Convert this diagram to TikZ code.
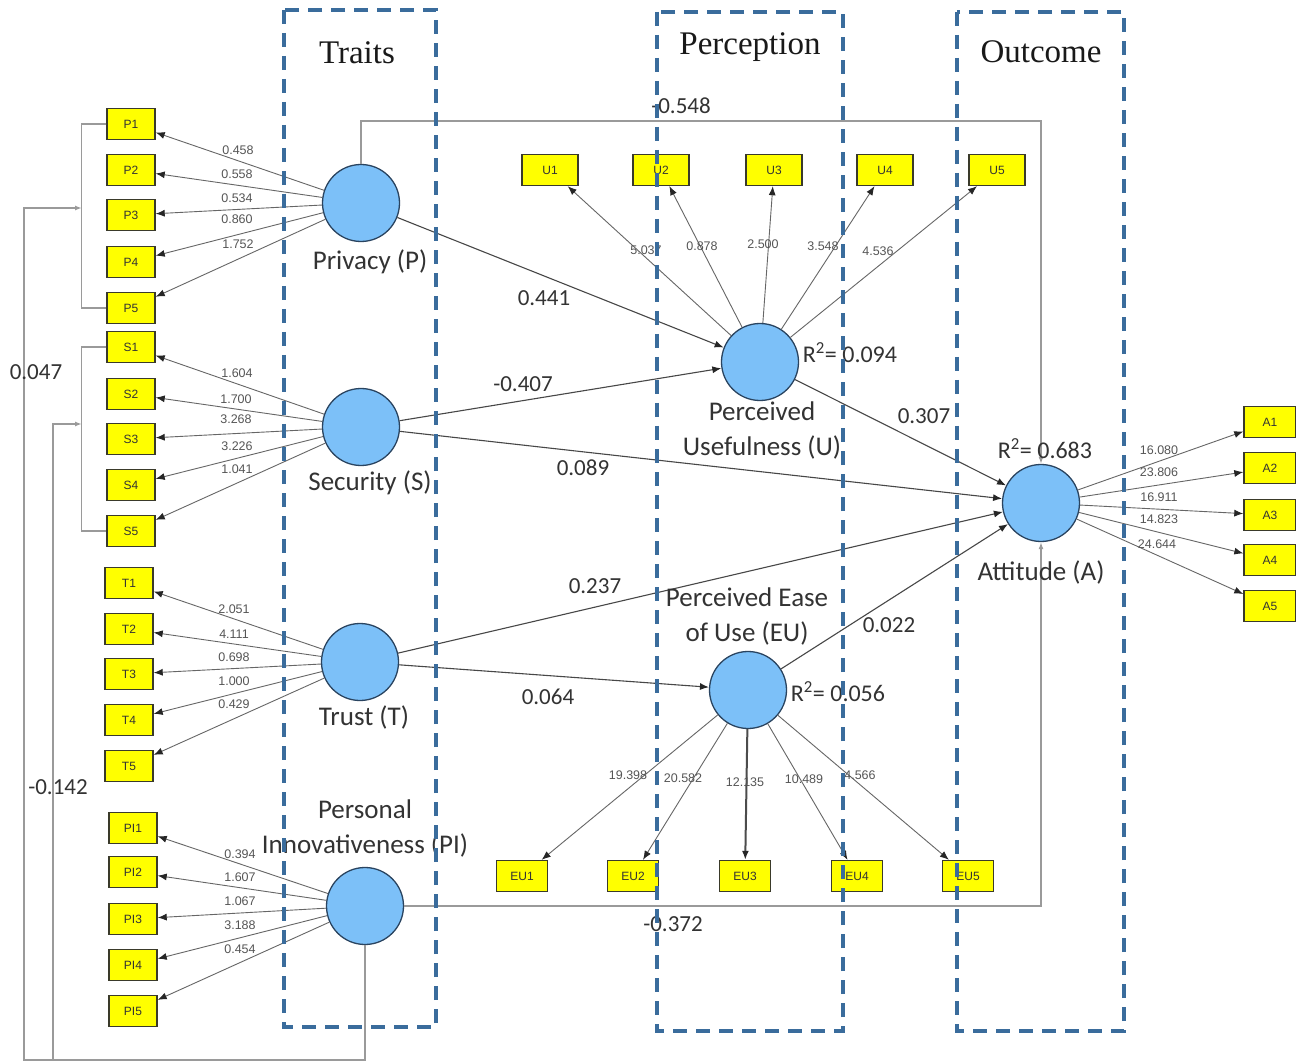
\documentclass[tikz,border=0pt]{standalone}
\usepackage{fontspec}
\setmainfont{Liberation Serif}
\newfontfamily\calfont{Carlito}
\newfontfamily\arialfont{Liberation Sans}
\usetikzlibrary{arrows.meta}
\definecolor{frameblue}{HTML}{3A6C9C}
\definecolor{circfill}{HTML}{7CC0F8}
\definecolor{circline}{HTML}{2A4460}
\definecolor{boxyellow}{HTML}{FFFF00}
\definecolor{boxline}{HTML}{3A3A2A}
\definecolor{txtdark}{HTML}{333333}
\definecolor{numgray}{HTML}{555555}
\definecolor{linkgray}{HTML}{9A9A9A}
\begin{document}
\begin{tikzpicture}[x=1pt,y=-1pt,
  latent/.style={circle,draw=circline,line width=1.3pt,fill=circfill,minimum size=77pt,inner sep=0pt},
  ind/.style={rectangle,draw=boxline,line width=1.4pt,fill=boxyellow,minimum width=48pt,minimum height=31pt,inner sep=0pt,font=\arialfont\fontsize{12}{12}\selectfont,text=black!80},
  indu/.style={ind,minimum width=56pt},
  inde/.style={ind,minimum width=51pt},
  inda/.style={ind,minimum width=52pt},
  tipk/.tip={Latex[length=9pt,width=7pt,color=black!85]},
  tipg/.tip={Latex[length=7pt,width=5pt,color=linkgray]},
  load/.style={draw=black!60,line width=0.9pt,-tipk},
  strpath/.style={draw=black!72,line width=1.1pt,-tipk},
  conn/.style={draw=linkgray,line width=1.6pt},
  lbl/.style={font=\calfont\fontsize{27}{35}\selectfont,text=txtdark,align=center,inner sep=0pt},
  coef/.style={font=\calfont\fontsize{23}{23}\selectfont,text=txtdark,inner sep=0pt},
  ld/.style={font=\arialfont\fontsize{12.5}{12.5}\selectfont,text=numgray,inner sep=0pt},
  ttl/.style={font=\fontsize{33}{33}\selectfont,text=black!90,inner sep=0pt},
  frame/.style={draw=frameblue,line width=3.2pt,dash pattern=on 14pt off 9pt}
]
\useasboundingbox[fill=white] (0,0) rectangle (1296,1064);

% latent constructs
\node[latent] (P)  at (361,203) {};
\node[latent] (S)  at (361,427) {};
\node[latent] (T)  at (360,662) {};
\node[latent] (PI) at (365,906) {};
\node[latent] (U)  at (760,362) {};
\node[latent] (EU) at (748,690) {};
\node[latent] (A)  at (1041,503) {};

% indicators
\node[ind] (P1) at (131,124) {P1};
\node[ind] (P2) at (131,170) {P2};
\node[ind] (P3) at (131,215) {P3};
\node[ind] (P4) at (131,262) {P4};
\node[ind] (P5) at (131,308) {P5};
\node[ind] (S1) at (131,347) {S1};
\node[ind] (S2) at (131,394) {S2};
\node[ind] (S3) at (131,439) {S3};
\node[ind] (S4) at (131,485) {S4};
\node[ind] (S5) at (131,531) {S5};
\node[ind] (T1) at (129,583) {T1};
\node[ind] (T2) at (129,629) {T2};
\node[ind] (T3) at (129,674) {T3};
\node[ind] (T4) at (129,720) {T4};
\node[ind] (T5) at (129,766) {T5};
\node[ind] (PI1) at (133,828) {PI1};
\node[ind] (PI2) at (133,872) {PI2};
\node[ind] (PI3) at (133,919) {PI3};
\node[ind] (PI4) at (133,965) {PI4};
\node[ind] (PI5) at (133,1011) {PI5};
\node[indu] (U1) at (550,170) {U1};
\node[indu] (U2) at (661,170) {U2};
\node[indu] (U3) at (774,170) {U3};
\node[indu] (U4) at (885,170) {U4};
\node[indu] (U5) at (997,170) {U5};
\node[inde] (EU1) at (522,876) {EU1};
\node[inde] (EU2) at (633,876) {EU2};
\node[inde] (EU3) at (745,876) {EU3};
\node[inde] (EU4) at (857,876) {EU4};
\node[inde] (EU5) at (968,876) {EU5};
\node[inda] (A1) at (1270,422) {A1};
\node[inda] (A2) at (1270,468) {A2};
\node[inda] (A3) at (1270,515) {A3};
\node[inda] (A4) at (1270,560) {A4};
\node[inda] (A5) at (1270,606) {A5};

% loading arrows
\foreach \c/\i in {P/P1,P/P2,P/P3,P/P4,P/P5,S/S1,S/S2,S/S3,S/S4,S/S5,T/T1,T/T2,T/T3,T/T4,T/T5,PI/PI1,PI/PI2,PI/PI3,PI/PI4,PI/PI5,U/U1,U/U2,U/U3,U/U4,U/U5,EU/EU1,EU/EU2,EU/EU4,EU/EU5,A/A1,A/A2,A/A3,A/A4,A/A5}
  \draw[load] (\c) -- (\i);
\draw[load,line width=2pt,draw=black!70] (EU) -- (EU3);

% loading labels
\node[ld] at (238,150) {0.458};
\node[ld] at (237,174) {0.558};
\node[ld] at (237,198) {0.534};
\node[ld] at (237,219) {0.860};
\node[ld] at (238,244) {1.752};
\node[ld] at (237,373) {1.604};
\node[ld] at (236,399) {1.700};
\node[ld] at (236,419) {3.268};
\node[ld] at (237,446) {3.226};
\node[ld] at (237,469) {1.041};
\node[ld] at (234,609) {2.051};
\node[ld] at (234,634) {4.111};
\node[ld] at (234,657) {0.698};
\node[ld] at (234,681) {1.000};
\node[ld] at (234,704) {0.429};
\node[ld] at (240,854) {0.394};
\node[ld] at (240,877) {1.607};
\node[ld] at (240,901) {1.067};
\node[ld] at (240,925) {3.188};
\node[ld] at (240,949) {0.454};
\node[ld] at (646,250) {5.037};
\node[ld] at (702,246) {0.878};
\node[ld] at (763,244) {2.500};
\node[ld] at (823,246) {3.548};
\node[ld] at (878,251) {4.536};
\node[ld] at (628,775) {19.398};
\node[ld] at (683,778) {20.582};
\node[ld] at (745,782) {12.135};
\node[ld] at (804,779) {10.489};
\node[ld] at (860,775) {4.566};
\node[ld] at (1159,450) {16.080};
\node[ld] at (1159,472) {23.806};
\node[ld] at (1159,497) {16.911};
\node[ld] at (1159,519) {14.823};
\node[ld] at (1157,544) {24.644};

% structural paths
\draw[strpath] (P) -- (U);
\draw[strpath] (S) -- (U);
\draw[strpath] (S) -- (A);
\draw[strpath] (T) -- (A);
\draw[strpath] (T) -- (EU);
\draw[strpath] (U) -- (A);
\draw[strpath] (EU) -- (A);

\node[coef] at (544,298) {0.441};
\node[coef] at (523,384) {-0.407};
\node[coef] at (583,468) {0.089};
\node[coef] at (595,586) {0.237};
\node[coef] at (548,697) {0.064};
\node[coef] at (924,416) {0.307};
\node[coef] at (889,625) {0.022};

% orthogonal connectors
\coordinate (topbend) at (361,121);
\draw[conn,-tipg] (P.north) -- (topbend) -| (A.north);
\draw[conn,-tipg] (PI.east) -| (A.south);
\node[coef] at (681,106) {-0.548};
\node[coef] at (673,924) {-0.372};

\coordinate (bout) at (24,1060);
\coordinate (bin) at (53,1060);
\coordinate (brP) at (82,208);
\coordinate (brS) at (82,424);
\draw[conn] (P1.west) -- ++(-25,0) |- (P5.west);
\draw[conn] (S1.west) -- ++(-25,0) |- (S5.west);
\draw[conn,-tipg] (PI.south) |- (bout) |- (brP);
\draw[conn,-tipg] (bin) |- (brS);
\node[coef] at (36,372) {0.047};
\node[coef] at (58,787) {-0.142};

% construct labels
\node[lbl] at (370,262) {Privacy (P)};
\node[lbl] at (370,483) {Security (S)};
\node[lbl] at (364,717) {Trust (T)};
\node[lbl] at (365,828) {Personal\\Innovativeness (PI)};
\node[lbl] at (762,430) {Perceived\\Usefulness (U)};
\node[lbl] at (747,616) {Perceived Ease\\of Use (EU)};
\node[lbl] at (1041,572) {Attitude (A)};
\node[coef,font=\calfont\fontsize{24}{24}\selectfont] at (850,353) {R\textsuperscript{2}= 0.094};
\node[coef,font=\calfont\fontsize{24}{24}\selectfont] at (838,692) {R\textsuperscript{2}= 0.056};
\node[coef,font=\calfont\fontsize{24}{24}\selectfont] at (1045,449) {R\textsuperscript{2}= 0.683};

% titles
\node[ttl] at (357,53) {Traits};
\node[ttl] at (750,47) {Perception};
\node[ttl] at (1041,52) {Outcome};

% dashed frames (on top)
\draw[frame] (284,10) rectangle (436,1027);
\draw[frame] (657,12) rectangle (843,1031);
\draw[frame] (957,12) rectangle (1124,1031);
\end{tikzpicture}
\end{document}
